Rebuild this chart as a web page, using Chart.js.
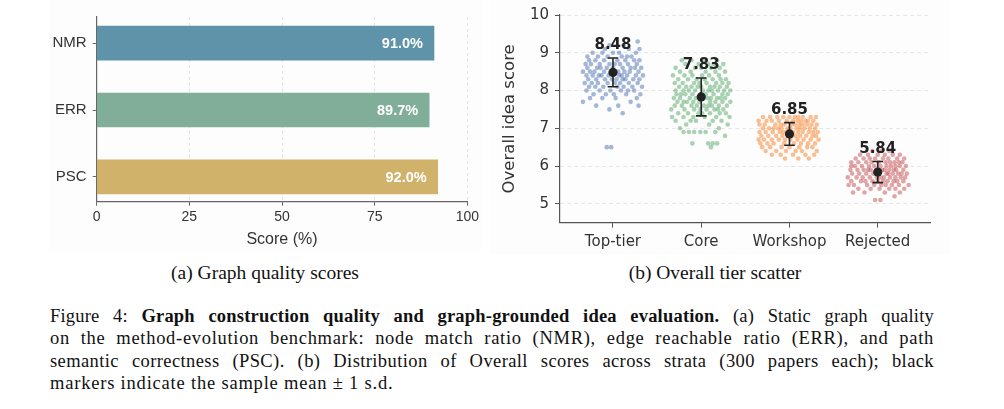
<!DOCTYPE html>
<html>
<head>
<meta charset="utf-8">
<script src="https://cdn.jsdelivr.net/npm/chart.js@4.4.1/dist/chart.umd.min.js"></script>
<style>
  html, body { margin: 0; padding: 0; background: #fff; }
  body { width: 1004px; height: 409px; position: relative; overflow: hidden; }
  .panel { position: absolute; background: #fdfdfd; }
  .sub { position: absolute; font-family: "Liberation Serif", "DejaVu Serif", serif; font-size: 19.5px; color: #111; white-space: nowrap; transform: translate(-50%, -50%); }
  #caption { position: absolute; left: 50px; top: 305px; width: 884px; font-family: "Liberation Serif", "DejaVu Serif", serif; font-size: 18.5px; line-height: 22.3px; color: #111; }
  #caption .ln { text-align: justify; text-align-last: justify; }
  #caption .ln.last { text-align-last: left; }
</style>
</head>
<body>
<div class="panel" style="left:49px;top:0;width:433px;height:252px;"><canvas id="qualityChart"></canvas></div>
<div class="panel" style="left:490px;top:0;width:460px;height:255px;"><canvas id="tierChart"></canvas></div>
<div class="sub" style="left:265px;top:273px;">(a) Graph quality scores</div>
<div class="sub" style="left:715px;top:273px;">(b) Overall tier scatter</div>
<div id="caption">
  <div class="ln" style="letter-spacing:0.2px">Figure 4: <b>Graph construction quality and graph-grounded idea evaluation.</b> (a) Static graph quality</div>
  <div class="ln" style="letter-spacing:0.7px">on the method-evolution benchmark: node match ratio (NMR), edge reachable ratio (ERR), and path</div>
  <div class="ln" style="letter-spacing:0.4px">semantic correctness (PSC). (b) Distribution of Overall scores across strata (300 papers each); black</div>
  <div class="ln last" style="letter-spacing:0.8px">markers indicate the sample mean &plusmn; 1 s.d.</div>
</div>
<script>
// (a) graph quality
const qualityLabels = ["NMR", "ERR", "PSC"];
const qualityValues = [91.0, 89.7, 92.0];
const qualityColors = ["#5f93aa", "#80ae98", "#d0b26a"];
const qualityTicks = [0, 25, 50, 75, 100];

// (b) tier scatter: each row is [score, jitter offsets of the papers at that score...]
const tierLabels = ["Top-tier", "Core", "Workshop", "Rejected"];
const tierMeans = [8.48, 7.83, 6.85, 5.84];
const tierSds = [0.38, 0.5, 0.3, 0.28];
const tierColors = ["rgba(76,114,176,0.5)", "rgba(85,168,104,0.5)", "rgba(245,135,50,0.52)", "rgba(196,78,82,0.5)"];
const scoreTicks = [5, 6, 7, 8, 9, 10];

const topTierRows = [
  [6.5, -0.07, -0.02],
  [7.4, 0.11],
  [7.5, -0.04],
  [7.6, -0.19, 0.06, 0.29],
  [7.7, -0.34, 0.2],
  [7.8, -0.12, 0.27, 0.03, -0.26],
  [7.9, 0.15, -0.08, 0.31, -0.22, 0.01],
  [8.0, -0.3, 0.09, -0.15, 0.24, -0.03, 0.17],
  [8.1, 0.22, -0.27, 0.05, -0.11, 0.33, -0.2, 0.12],
  [8.2, -0.06, 0.18, -0.32, 0.28, -0.17, 0.08, -0.24, 0.02],
  [8.3, 0.14, -0.09, 0.3, -0.28, 0.04, -0.19, 0.23, -0.01, 0.11],
  [8.4, -0.23, 0.07, 0.26, -0.13, 0.34, -0.05, 0.16, -0.3, 0.1, -0.16],
  [8.5, 0.03, -0.21, 0.19, -0.34, 0.29, -0.1, 0.13, -0.26, 0.06, -0.02],
  [8.6, -0.14, 0.25, -0.07, 0.11, -0.29, 0.2, -0.18, 0.32, 0.0],
  [8.7, 0.08, -0.25, 0.17, -0.04, 0.27, -0.15, 0.02, -0.31],
  [8.8, -0.2, 0.14, -0.1, 0.24, -0.27, 0.05, 0.3],
  [8.9, 0.1, -0.17, 0.21, -0.06, -0.29, 0.16],
  [9.0, -0.12, 0.07, -0.23, 0.26, 0.0],
  [9.1, 0.18, -0.09, 0.3],
  [9.2, -0.04, 0.12],
  [9.3, 0.28]
];
const coreRows = [
  [6.5, 0.11],
  [6.6, -0.1, 0.08, 0.13, 0.18],
  [6.8, 0.27],
  [6.9, -0.2, -0.14, -0.08, -0.01, 0.05, 0.16],
  [7.0, -0.24, 0.2],
  [7.1, 0.09, -0.17, 0.3],
  [7.2, -0.06, 0.23, -0.29, 0.13, -0.12],
  [7.3, 0.32, -0.2, 0.04, -0.09, 0.17, -0.33],
  [7.4, 0.1, -0.26, 0.21, -0.03, 0.28, -0.15, 0.01],
  [7.5, -0.34, 0.15, -0.08, 0.25, -0.19, 0.06, -0.01, 0.19],
  [7.6, 0.03, -0.22, 0.29, -0.11, 0.12, -0.3, 0.2, -0.05, 0.08],
  [7.7, -0.16, 0.24, -0.02, 0.1, -0.27, 0.33, -0.09, 0.16, -0.2],
  [7.8, 0.07, -0.13, 0.27, -0.24, 0.01, 0.18, -0.31, 0.11, -0.06, 0.22],
  [7.9, -0.18, 0.05, -0.28, 0.3, -0.1, 0.14, -0.01, 0.24, -0.23],
  [8.0, 0.19, -0.07, 0.33, -0.2, 0.02, -0.29, 0.12, 0.26, -0.14, 0.08],
  [8.1, -0.25, 0.1, -0.04, 0.21, -0.17, 0.29, 0.0, -0.11, 0.15],
  [8.2, 0.06, -0.21, 0.31, -0.08, 0.17, -0.3, 0.24, -0.02],
  [8.3, -0.15, 0.13, -0.26, 0.04, 0.22, -0.05, 0.28],
  [8.4, 0.09, -0.19, 0.2, -0.32, 0.01, -0.1],
  [8.5, 0.27, -0.12, 0.05, -0.24, 0.16],
  [8.6, -0.07, 0.21, -0.29, 0.11, 0.0],
  [8.7, 0.14, -0.18, 0.25, -0.03, 0.08],
  [8.8, -0.11, 0.03, 0.18, -0.22]
];
const workshopRows = [
  [6.2, -0.05, 0.1, 0.22],
  [6.3, -0.2, 0.04, 0.18, -0.1, 0.28],
  [6.4, 0.14, -0.27, 0.31, -0.04, 0.07, -0.15],
  [6.5, -0.22, 0.2, 0.0, -0.09, 0.26, 0.11, -0.31],
  [6.6, 0.05, -0.18, 0.29, -0.33, 0.13, -0.06, 0.21, -0.25],
  [6.7, -0.12, 0.24, -0.29, 0.09, 0.01, -0.2, 0.33, 0.16, -0.05, -0.35],
  [6.8, 0.19, -0.08, 0.3, -0.24, 0.03, -0.15, 0.12, 0.26, -0.32, 0.07, -0.01],
  [6.9, -0.27, 0.1, -0.11, 0.22, -0.03, 0.32, -0.19, 0.15, -0.34, 0.04, 0.27, -0.07],
  [7.0, 0.08, -0.23, 0.17, -0.13, 0.29, -0.02, 0.23, -0.3, 0.12, -0.09, 0.01, -0.18],
  [7.1, -0.06, 0.2, -0.28, 0.11, -0.16, 0.31, 0.02, -0.34, 0.15, -0.1, 0.25, 0.06],
  [7.2, 0.13, -0.2, 0.27, -0.35, 0.04, -0.12, 0.21, -0.26, 0.09, -0.03, 0.18],
  [7.3, -0.14, 0.06, -0.3, 0.24, -0.07, 0.15, -0.22, 0.0, 0.3, 0.1]
];
const rejectedRows = [
  [5.1, -0.03, 0.03],
  [5.2, 0.19],
  [5.3, -0.15, 0.08, 0.25, -0.28],
  [5.4, 0.13, -0.22, 0.02, 0.3, -0.08, 0.2],
  [5.5, -0.33, 0.09, -0.12, 0.24, -0.27, 0.04, 0.16, -0.04, 0.35],
  [5.6, 0.18, -0.19, 0.29, -0.06, 0.11, -0.3, 0.0, 0.22, -0.14, 0.06],
  [5.7, -0.24, 0.14, -0.01, 0.31, -0.17, 0.07, -0.34, 0.2, -0.09, 0.26, 0.03],
  [5.8, 0.1, -0.21, 0.27, -0.05, 0.17, -0.29, 0.01, 0.23, -0.13, 0.33, -0.02, 0.12],
  [5.9, -0.16, 0.05, -0.31, 0.21, -0.08, 0.29, 0.13, -0.23, 0.0, -0.11, 0.18, 0.08],
  [6.0, 0.25, -0.1, 0.15, -0.26, 0.03, -0.18, 0.32, -0.04, 0.1, 0.2, -0.3],
  [6.1, -0.07, 0.19, -0.22, 0.09, 0.28, -0.13, 0.01, -0.3, 0.14, 0.24],
  [6.2, 0.12, -0.16, 0.22, -0.03, -0.25, 0.06, 0.3, -0.09],
  [6.3, -0.11, 0.17, 0.0, -0.2, 0.08, 0.25],
  [6.4, 0.04, -0.06, 0.13]
];
const tierRows = [topTierRows, coreRows, workshopRows, rejectedRows];

const SANS = '"Liberation Sans", Arial, sans-serif';
const DJV = '"DejaVu Sans", sans-serif';

new Chart(document.getElementById("qualityChart"), {
  type: "bar",
  data: {
    datasets: [{
      data: qualityValues.map((v, i) => ({ x: v, y: i })),
      backgroundColor: qualityColors,
      barThickness: 34,
      borderWidth: 0
    }]
  },
  options: {
    indexAxis: "y",
    responsive: true,
    maintainAspectRatio: false,
    animation: false,
    layout: { padding: { top: 17, right: 14, left: 0, bottom: 0 } },
    plugins: { legend: { display: false }, tooltip: { enabled: false } },
    scales: {
      x: {
        type: "linear",
        min: 0,
        max: 100,
        afterBuildTicks: (s) => { s.ticks = qualityTicks.map((v) => ({ value: v })); },
        afterFit: (s) => { s.height = 50.3; },
        grid: { color: "#e4e4e4", tickColor: "#666", tickLength: 4, tickBorderDash: [] },
        border: { color: "#666", width: 1.2, dash: [3, 3] },
        ticks: { font: { family: SANS, size: 14 }, color: "#333", padding: 3 },
        title: { display: true, text: "Score (%)", font: { family: SANS, size: 16 }, color: "#333", padding: { top: 0, bottom: 3 } }
      },
      y: {
        type: "linear",
        reverse: true,
        offset: false,
        min: -0.39,
        max: 2.37,
        afterBuildTicks: (s) => { s.ticks = qualityLabels.map((_, i) => ({ value: i })); },
        afterFit: (s) => { s.width = 47.7; },
        grid: { offset: false, color: "rgba(0,0,0,0)", tickColor: "#666", tickLength: 4 },
        border: { color: "#666", width: 1.2 },
        ticks: { font: { family: SANS, size: 15 }, color: "#333", padding: 6, callback: (v) => qualityLabels[v] }
      }
    }
  },
  plugins: [{
    id: "barLabels",
    afterDatasetsDraw(chart) {
      const { ctx, scales: { x, y } } = chart;
      ctx.save();
      ctx.font = "bold 14.5px " + SANS;
      ctx.fillStyle = "#fff";
      ctx.textAlign = "right";
      ctx.textBaseline = "middle";
      qualityValues.forEach((v, i) => {
        ctx.fillText(v.toFixed(1) + "%", x.getPixelForValue(v) - 11, y.getPixelForValue(i) + 1);
      });
      ctx.restore();
    }
  }]
});

const errorSets = tierMeans.map((m, i) => ({
  type: "scatter",
  data: [{ x: i, y: m - tierSds[i] }, { x: i, y: m + tierSds[i] }],
  showLine: true,
  borderColor: "#222",
  borderWidth: 1.6,
  pointStyle: "line",
  pointRadius: 5.3,
  pointBorderColor: "#222",
  pointBorderWidth: 1.6
}));

const cloudSets = tierRows.map((rows, i) => ({
  type: "scatter",
  data: rows.flatMap(([score, ...offsets]) => offsets.map((d) => ({ x: i + d, y: score }))),
  backgroundColor: tierColors[i],
  borderWidth: 0,
  pointRadius: 2.3
}));

new Chart(document.getElementById("tierChart"), {
  type: "scatter",
  data: {
    datasets: [
      {
        data: tierMeans.map((m, i) => ({ x: i, y: m })),
        backgroundColor: "#222",
        borderColor: "#222",
        pointRadius: 4.6,
        borderWidth: 0
      },
      ...errorSets,
      ...cloudSets
    ]
  },
  options: {
    responsive: true,
    maintainAspectRatio: false,
    animation: false,
    layout: { padding: { top: 11.7, right: 19.3, left: 0, bottom: 0 } },
    plugins: { legend: { display: false }, tooltip: { enabled: false } },
    scales: {
      x: {
        type: "linear",
        min: -0.6,
        max: 3.6,
        afterBuildTicks: (s) => { s.ticks = tierLabels.map((_, i) => ({ value: i })); },
        afterFit: (s) => { s.height = 32.3; },
        grid: { color: "rgba(0,0,0,0)", tickColor: "#555", tickLength: 5 },
        border: { color: "#555", width: 1.2 },
        ticks: { font: { family: DJV, size: 15 }, color: "#333", padding: 5, callback: (v) => tierLabels[v] }
      },
      y: {
        type: "linear",
        min: 4.5,
        max: 10,
        afterBuildTicks: (s) => { s.ticks = scoreTicks.map((v) => ({ value: v })); },
        afterFit: (s) => { s.width = 70; },
        grid: { color: "#e6e6e6", tickColor: "#555", tickLength: 5, tickBorderDash: [] },
        border: { color: "#555", width: 1.2, dash: [4, 3] },
        ticks: { font: { family: DJV, size: 15 }, color: "#333", padding: 6 },
        title: { display: true, text: "Overall idea score", font: { family: DJV, size: 16.5 }, color: "#333", padding: { top: 10, bottom: 0 } }
      }
    }
  },
  plugins: [{
    id: "meanLabels",
    afterDatasetsDraw(chart) {
      const { ctx, scales: { x, y } } = chart;
      ctx.save();
      ctx.font = "bold 15px " + DJV;
      ctx.fillStyle = "#222";
      ctx.textAlign = "center";
      ctx.textBaseline = "middle";
      tierMeans.forEach((m, i) => {
        ctx.fillText(m.toFixed(2), x.getPixelForValue(i), y.getPixelForValue(m + tierSds[i] + 0.33));
      });
      ctx.restore();
    }
  }]
});
</script>
</body>
</html>
